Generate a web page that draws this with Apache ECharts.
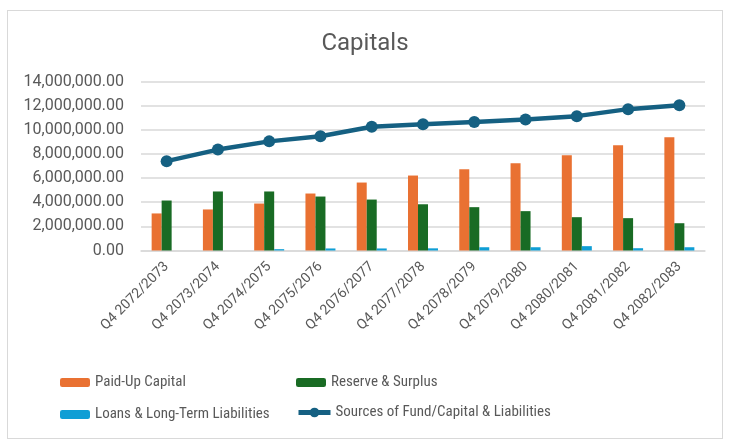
<!DOCTYPE html>
<html>
<head>
<meta charset="utf-8">
<script src="https://cdn.jsdelivr.net/npm/echarts@6/dist/echarts.min.js"></script>
<style>
  html, body { margin: 0; padding: 0; background: #fff; }
  #wrap { position: absolute; left: 7px; top: 10px; width: 716px; height: 429px; border: 1px solid #d9d9d9; box-sizing: border-box; }
  #chart { position: absolute; left: 0; top: 0; width: 730px; height: 447px; }
</style>
</head>
<body>
<div id="wrap"></div>
<div id="chart"></div>
<script>
// 图表数据
const categories = ['Q4 2072/2073', 'Q4 2073/2074', 'Q4 2074/2075', 'Q4 2075/2076', 'Q4 2076/2077',
  'Q4 2077/2078', 'Q4 2078/2079', 'Q4 2079/2080', 'Q4 2080/2081', 'Q4 2081/2082', 'Q4 2082/2083'];
const paidUpCapital = [3070000, 3400000, 3890000, 4720000, 5630000, 6210000, 6730000, 7230000, 7900000, 8720000, 9390000];
const reserveSurplus = [4140000, 4890000, 4890000, 4470000, 4220000, 3830000, 3590000, 3260000, 2760000, 2680000, 2260000];
const loansLiabilities = [0, 0, 110000, 170000, 170000, 180000, 270000, 270000, 360000, 190000, 270000];
const sourcesOfFund = [7400000, 8360000, 9040000, 9460000, 10250000, 10450000, 10650000, 10850000, 11130000, 11710000, 12040000];

const seriesNames = ['Paid-Up Capital', 'Reserve & Surplus', 'Loans & Long-Term Liabilities', 'Sources of Fund/Capital & Liabilities'];
const colors = ['#E97132', '#196B24', '#0F9ED5', '#156082'];

const myChart = echarts.init(document.getElementById('chart'));

const legendText = { fontSize: 15, color: '#595959', fontFamily: 'Liberation Sans Narrow, Roboto Condensed, Roboto' };
const legendBase = { padding: 0, itemWidth: 30, itemHeight: 9, itemGap: 4, textStyle: legendText };

const option = {
  animation: false,
  textStyle: { fontFamily: 'Roboto' },
  title: {
    text: 'Capitals',
    left: 'center',
    top: 27,
    textStyle: { fontSize: 24, fontWeight: 'normal', color: '#595959', fontFamily: 'Roboto' }
  },
  legend: [
    Object.assign({ data: [seriesNames[0]], left: 60, top: 375 }, legendBase),
    Object.assign({ data: [seriesNames[1]], left: 296, top: 375 }, legendBase),
    Object.assign({ data: [seriesNames[2]], left: 60, top: 407 }, legendBase),
    Object.assign({}, legendBase, {
      data: [{ name: seriesNames[3], lineStyle: { width: 5 } }],
      left: 296, top: 405, itemWidth: 32, itemHeight: 12
    })
  ],
  grid: {
    left: 141,
    right: 25,
    top: 81.5,
    bottom: 196.5
  },
  xAxis: {
    type: 'category',
    data: categories,
    axisTick: { show: false },
    axisLine: { lineStyle: { color: '#d9d9d9', width: 1.5 } },
    axisLabel: {
      rotate: 45,
      interval: 0,
      fontSize: 14,
      color: '#595959',
      margin: 14
    }
  },
  yAxis: {
    type: 'value',
    min: 0,
    max: 14000000,
    interval: 2000000,
    axisLine: { show: false },
    axisTick: { show: false },
    axisLabel: {
      fontSize: 16,
      color: '#595959',
      margin: 17,
      formatter: function (v) {
        return v.toLocaleString('en-US', { minimumFractionDigits: 2, maximumFractionDigits: 2 });
      }
    },
    splitLine: { lineStyle: { color: '#d9d9d9', width: 1.5 } }
  },
  series: [
    {
      name: seriesNames[0],
      type: 'bar',
      data: paidUpCapital,
      barWidth: 10,
      barGap: '0%',
      itemStyle: { color: colors[0] }
    },
    {
      name: seriesNames[1],
      type: 'bar',
      data: reserveSurplus,
      barWidth: 10,
      barGap: '0%',
      itemStyle: { color: colors[1] }
    },
    {
      name: seriesNames[2],
      type: 'bar',
      data: loansLiabilities,
      barWidth: 10,
      barGap: '0%',
      itemStyle: { color: colors[2] }
    },
    {
      name: seriesNames[3],
      type: 'line',
      data: sourcesOfFund,
      symbol: 'circle',
      symbolSize: 12,
      lineStyle: { width: 4.5, color: colors[3] },
      itemStyle: { color: colors[3] },
      z: 5
    }
  ]
};

myChart.setOption(option);
</script>
</body>
</html>
